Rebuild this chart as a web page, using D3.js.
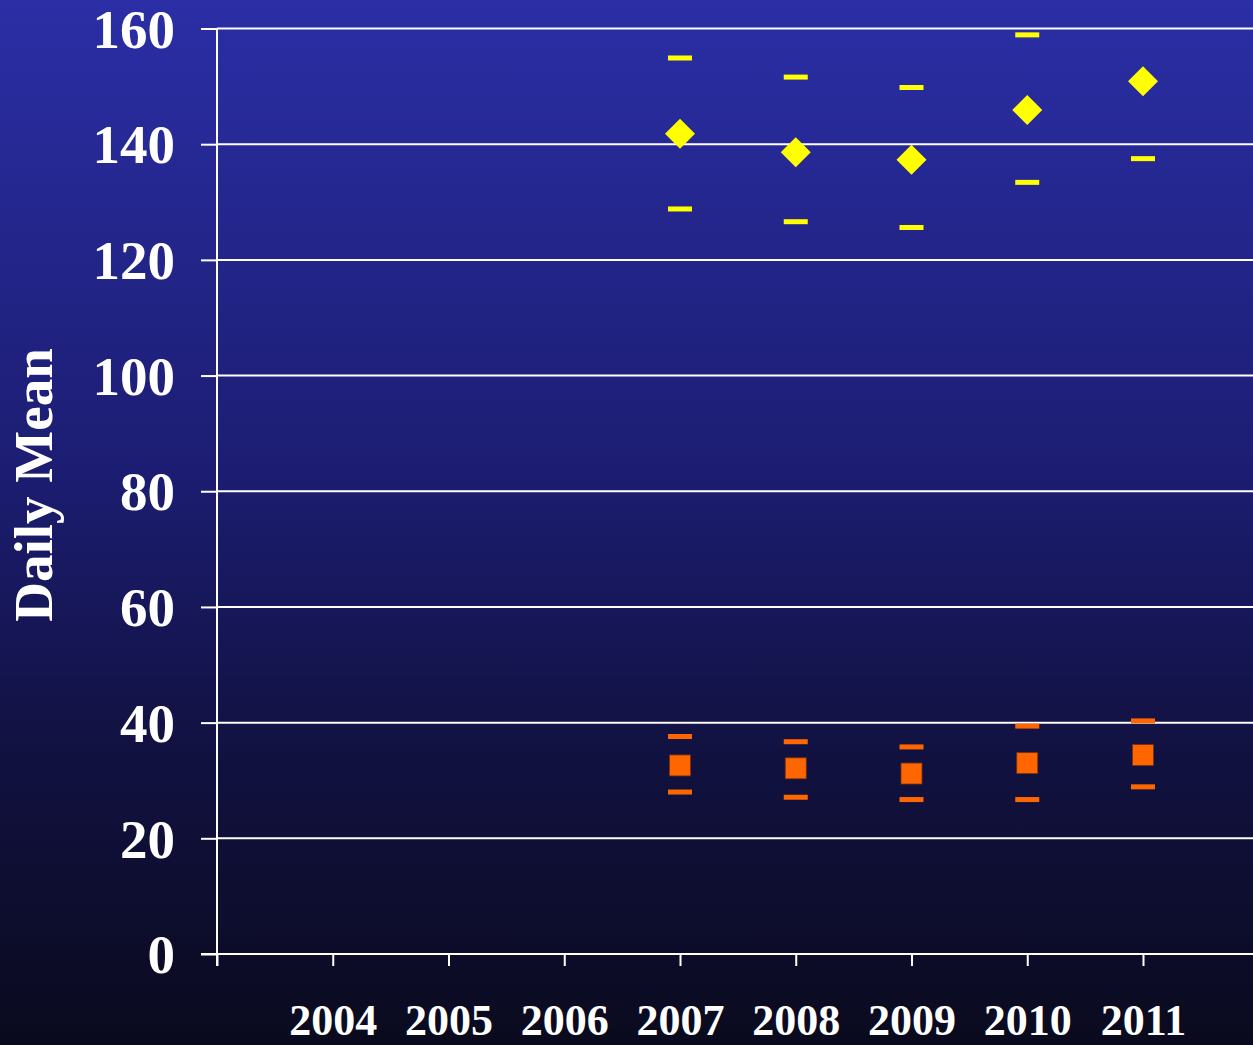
<!DOCTYPE html>
<html>
<head>
<meta charset="utf-8">
<script src="https://cdn.jsdelivr.net/npm/d3@7"></script>
<style>
  html, body { margin: 0; padding: 0; background: #0b0b20; }
  svg { display: block; }
  text { font-family: "Liberation Serif", "Times New Roman", serif; font-weight: bold; fill: #ffffff; }
</style>
</head>
<body>
<div id="chart"></div>
<script>
// Data
const years = [2007, 2008, 2009, 2010, 2011];
const axisYears = [2003, 2004, 2005, 2006, 2007, 2008, 2009, 2010, 2011, 2012];
const labelYears = [2004, 2005, 2006, 2007, 2008, 2009, 2010, 2011];
const yTicks = [0, 20, 40, 60, 80, 100, 120, 140, 160];

const highMean = [141.8, 138.6, 137.3, 145.9, 150.9];
const highUpper = [154.9, 151.6, 149.8, 158.9, null];
const highLower = [128.8, 126.6, 125.6, 133.4, 137.5];

const lowMean = [32.6, 32.1, 31.2, 33.0, 34.4];
const lowUpper = [37.6, 36.7, 35.8, 39.4, 40.3];
const lowLower = [28.0, 27.1, 26.7, 26.7, 28.9];

const W = 1253, H = 1045;
const plotLeft = 217, plotTop = 28.5, plotBottom = 954;

const svg = d3.select('#chart').append('svg')
    .attr('width', W)
    .attr('height', H);

// Background gradient
const grad = svg.append('defs').append('linearGradient')
    .attr('id', 'bg')
    .attr('x1', 0).attr('y1', 0).attr('x2', 0).attr('y2', 1);
grad.append('stop').attr('offset', '0%').attr('stop-color', '#2b2ea5');
grad.append('stop').attr('offset', '45%').attr('stop-color', '#1c1d72');
grad.append('stop').attr('offset', '70%').attr('stop-color', '#121244');
grad.append('stop').attr('offset', '100%').attr('stop-color', '#0a0a1e');
svg.append('rect').attr('width', W).attr('height', H).attr('fill', 'url(#bg)');

// Scales
const x = d3.scaleLinear().domain([2003, 2012]).range([plotLeft, plotLeft + 9 * 115.75]);
const y = d3.scaleLinear().domain([0, 160]).range([plotBottom, plotTop]);

// Gridlines
svg.append('g')
    .selectAll('line')
    .data(yTicks.filter(d => d > 0))
    .join('line')
    .attr('x1', plotLeft).attr('x2', W)
    .attr('y1', d => y(d)).attr('y2', d => y(d))
    .attr('stroke', '#ffffff')
    .attr('stroke-width', 2);

// Y axis
const yAxis = svg.append('g')
    .attr('transform', `translate(${plotLeft},0)`)
    .call(d3.axisLeft(y).tickValues(yTicks).tickSize(16).tickPadding(26));
yAxis.select('.domain').remove();
yAxis.selectAll('.tick line').attr('stroke', '#ffffff').attr('stroke-width', 2);
yAxis.selectAll('.tick text')
    .attr('dy', '0.34em')
    .style('font-size', '55px')
    .style('font-family', '"Liberation Serif", "Times New Roman", serif')
    .style('font-weight', 'bold')
    .attr('fill', '#ffffff');

svg.append('line')
    .attr('x1', plotLeft).attr('x2', plotLeft)
    .attr('y1', plotTop).attr('y2', plotBottom + 12)
    .attr('stroke', '#ffffff').attr('stroke-width', 2);

// X axis
const xAxis = svg.append('g')
    .attr('transform', `translate(0,${plotBottom})`)
    .call(d3.axisBottom(x).tickValues(axisYears).tickSize(12)
        .tickFormat(d => labelYears.includes(d) ? String(d) : ''));
xAxis.select('.domain').remove();
xAxis.selectAll('.tick line').attr('stroke', '#ffffff').attr('stroke-width', 2);
xAxis.selectAll('.tick text')
    .attr('y', 81)
    .attr('dy', 0)
    .style('font-size', '44px')
    .style('font-family', '"Liberation Serif", "Times New Roman", serif')
    .style('font-weight', 'bold')
    .attr('fill', '#ffffff');

svg.append('line')
    .attr('x1', plotLeft - 16).attr('x2', W)
    .attr('y1', plotBottom).attr('y2', plotBottom)
    .attr('stroke', '#ffffff').attr('stroke-width', 2);

// Axis title
svg.append('text')
    .attr('transform', `translate(52,485) rotate(-90)`)
    .attr('text-anchor', 'middle')
    .style('font-size', '55px')
    .text('Daily Mean');

// Range dashes
function dashes(vals, color) {
    svg.append('g')
        .selectAll('rect')
        .data(years.map((yr, i) => ({ yr, v: vals[i] })).filter(d => d.v !== null))
        .join('rect')
        .attr('x', d => x(d.yr) - 12)
        .attr('y', d => y(d.v) - 2.5)
        .attr('width', 24)
        .attr('height', 5)
        .attr('fill', color);
}
dashes(highUpper, '#ffff00');
dashes(highLower, '#ffff00');
dashes(lowUpper, '#ff6600');
dashes(lowLower, '#ff6600');

// Diamonds
svg.append('g')
    .selectAll('path')
    .data(years.map((yr, i) => ({ yr, v: highMean[i] })))
    .join('path')
    .attr('d', d => {
        const cx = x(d.yr), cy = y(d.v), r = 15;
        return `M${cx},${cy - r}L${cx + r},${cy}L${cx},${cy + r}L${cx - r},${cy}Z`;
    })
    .attr('fill', '#ffff00');

// Squares
svg.append('g')
    .selectAll('rect')
    .data(years.map((yr, i) => ({ yr, v: lowMean[i] })))
    .join('rect')
    .attr('x', d => x(d.yr) - 10.5)
    .attr('y', d => y(d.v) - 10.5)
    .attr('width', 21)
    .attr('height', 21)
    .attr('fill', '#ff6600')
    .attr('stroke', '#7a3010')
    .attr('stroke-width', 0.8);
</script>
</body>
</html>
